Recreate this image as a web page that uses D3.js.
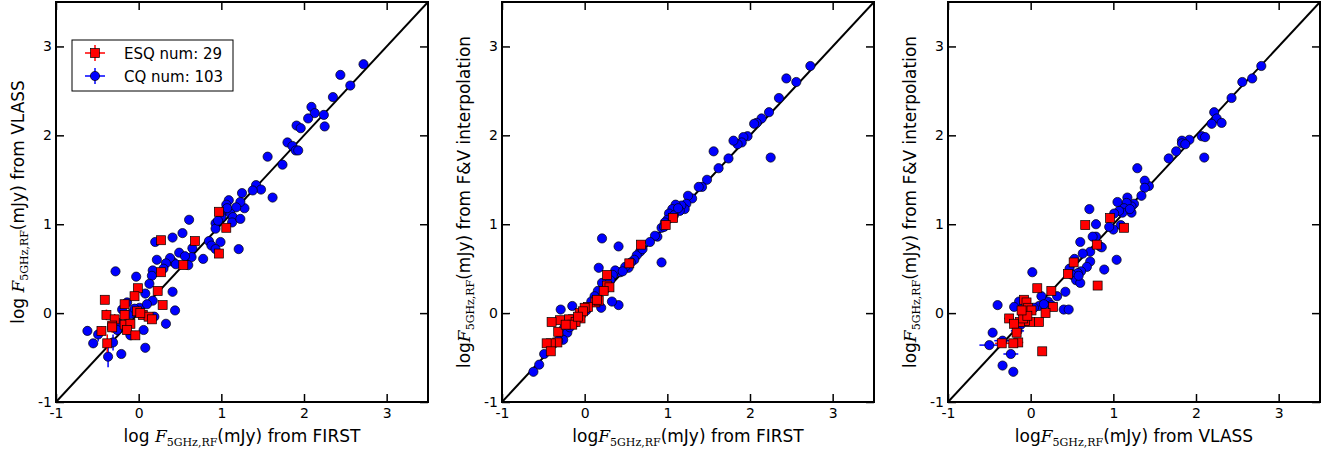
<!DOCTYPE html>
<html>
<head>
<meta charset="utf-8">
<script src="https://cdn.jsdelivr.net/npm/d3@7"></script>
<style>
  body { margin: 0; background: #fff; }
  svg text { font-family: "DejaVu Sans", sans-serif; }
</style>
</head>
<body>
<svg id="chart" width="1336" height="453"></svg>
<script>
// tick values, same on both axes
var tickValues = [-1, 0, 1, 2, 3];
var axisDomain = [-1, 3.5];

var legendLabels = ["ESQ num: 29", "CQ num: 103"];
var xLabels = ["from FIRST", "from FIRST", "from VLASS"];
var yLabels = ["from VLASS", "from F&V interpolation", "from F&V interpolation"];

// points: [x, y, xerr, yerr]
// panel 1: FIRST vs VLASS
var cqFirstVlass = [
  [2.72,2.80,0,0],[2.44,2.68,0,0],[2.56,2.56,0,0],[2.35,2.43,0,0],[2.09,2.32,0,0],[2.13,2.25,0,0],
  [2.05,2.19,0,0],[2.24,2.23,0,0],[2.25,2.10,0,0],[1.91,2.11,0,0],[1.96,2.08,0,0],[1.80,1.92,0,0],
  [1.86,1.88,0,0],[1.90,1.83,0,0],[1.93,1.83,0,0],[1.74,1.67,0,0],[1.56,1.76,0,0],[1.62,1.30,0,0],
  [1.42,1.44,0,0],[1.48,1.39,0,0],[1.38,1.38,0,0],[1.25,1.35,0,0],[1.28,1.18,0,0],[1.23,1.25,0,0],
  [1.18,1.19,0,0],[1.09,1.27,0,0],[1.06,1.22,0,0],[1.04,1.15,0,0],[1.11,1.12,0,0],[1.14,1.08,0,0],
  [1.13,1.02,0,0],[1.23,1.06,0,0],[1.21,0.72,0,0],[0.99,1.12,0,0],[0.93,1.01,0,0],[0.93,0.95,0,0],
  [0.99,0.80,0,0],[0.85,0.81,0,0],[0.88,0.76,0,0],[0.93,0.72,0,0],[0.78,0.61,0,0],[0.65,0.73,0,0],
  [0.64,0.63,0,0],[0.60,0.54,0,0],[0.61,1.05,0,0],[0.53,0.90,0,0],[0.49,0.68,0,0],[0.41,0.85,0,0],
  [0.41,0.58,0,0],[0.38,0.62,0,0],[0.33,0.56,0,0],[0.30,0.50,0,0],[0.20,0.80,0,0],[0.22,0.60,0,0],
  [0.17,0.48,0,0],[0.16,0.42,0,0],[0.13,0.33,0,0],[0.17,0.14,0,0],[0.08,0.22,0,0],[-0.03,0.41,0,0],
  [-0.28,0.47,0,0],[0.01,0.06,0,0],[0.41,0.24,0,0],[0.44,0.03,0,0],[0.33,-0.12,0,0],[0.19,-0.04,0,0.05],
  [0.06,-0.19,0,0.04],[0.08,-0.39,0,0.04],[-0.14,0.12,0,0],[-0.10,-0.01,0,0.05],[-0.20,0.04,0,0.04],
  [-0.10,-0.25,0,0.05],[-0.25,-0.11,0,0.06],[-0.26,-0.19,0,0.06],[-0.31,-0.33,0,0.09],[-0.37,-0.49,0,0.12],
  [-0.21,-0.46,0,0.04],[-0.62,-0.20,0,0.05],[-0.55,-0.34,0,0.05],[-0.49,-0.24,0,0.08],[1.00,1.08,0,0],
  [1.07,1.18,0,0],[0.96,1.04,0,0],[0.45,0.55,0,0],[0.56,0.64,0,0],[-0.05,0.05,0,0.04],[0.10,0.10,0,0]
];
var esqFirstVlass = [
  [0.97,1.14,0,0],[1.06,0.96,0,0],[0.97,0.67,0,0],[0.68,0.81,0,0],[0.54,0.54,0,0],[0.27,0.82,0,0],
  [0.27,0.46,0,0],[0.23,0.25,0,0],[0.29,0.09,0,0],[-0.01,0.28,0,0],[-0.05,0.19,0,0],[-0.41,0.15,0,0],
  [-0.17,0.10,0,0.05],[-0.39,-0.02,0,0.06],[-0.29,-0.07,0,0.06],[-0.17,-0.02,0,0.05],[-0.02,0.02,0,0.04],
  [0.05,-0.02,0,0.04],[0.12,-0.04,0,0.04],[0.16,-0.07,0,0.04],[-0.32,-0.14,0,0.07],[-0.17,-0.13,0,0.06],
  [-0.10,-0.12,0,0.05],[-0.14,-0.19,0,0.05],[-0.04,-0.25,0,0.05],[-0.45,-0.20,0,0.05],[-0.38,-0.34,0,0.10],
  [-0.32,-0.16,0,0.06],[0.02,0.00,0,0.04]
];

// panel 2: FIRST vs F&V interpolation
var cqFirstFv = [
  [2.73,2.78,0,0],[2.44,2.64,0,0],[2.56,2.60,0,0],[2.35,2.42,0,0],[2.23,2.26,0,0],[2.14,2.19,0,0],
  [2.08,2.14,0,0],[2.05,2.13,0,0],[2.25,1.75,0,0],[1.97,1.99,0,0],[1.92,1.98,0,0],[1.90,1.92,0,0],
  [1.85,1.90,0,0],[1.80,1.94,0,0],[1.74,1.74,0,0],[1.62,1.63,0,0],[1.56,1.82,0,0],[1.48,1.50,0,0],
  [1.42,1.42,0,0],[1.38,1.42,0,0],[1.30,1.29,0,0],[1.25,1.32,0,0],[1.23,1.23,0,0],[1.21,1.17,0,0],
  [1.17,1.21,0,0],[1.15,1.15,0,0],[1.10,1.22,0,0],[1.06,1.17,0,0],[1.02,1.12,0,0],[1.00,1.05,0,0],
  [0.97,1.02,0,0],[0.93,0.96,0,0],[0.93,0.57,0,0],[0.88,0.86,0,0],[0.85,0.87,0,0],[0.79,0.80,0,0],
  [0.67,0.69,0,0],[0.63,0.65,0,0],[0.60,0.60,0,0],[0.53,0.51,0,0],[0.49,0.52,0,0],[0.41,0.75,0,0],
  [0.41,0.09,0,0],[0.33,0.13,0,0],[0.21,0.84,0,0],[0.17,0.51,0,0],[0.21,0.34,0,0],[0.20,0.06,0,0],
  [0.43,0.46,0,0],[0.37,0.48,0,0],[0.34,0.43,0,0],[0.31,0.37,0,0],[0.16,0.25,0,0],[0.12,0.19,0,0],
  [0.08,0.13,0,0],[-0.15,0.08,0,0],[-0.29,0.04,0,0],[-0.25,-0.17,0,0.03],[-0.21,-0.22,0,0.03],
  [-0.26,-0.30,0,0.03],[-0.37,-0.34,0,0.03],[-0.49,-0.46,0,0.03],[-0.55,-0.58,0,0.03],[-0.62,-0.66,0,0.03],
  [-0.12,-0.11,0,0.03],[-0.04,-0.02,0,0],[1.08,1.10,0,0],[1.13,1.18,0,0],[0.96,0.97,0,0],[0.70,0.72,0,0],
  [0.56,0.57,0,0],[0.46,0.47,0,0],[0.26,0.28,0,0],[0.02,0.03,0,0],[-0.18,-0.16,0,0.03],[-0.32,-0.31,0,0.03]
];
var esqFirstFv = [
  [1.07,1.07,0,0],[0.98,0.99,0,0],[0.68,0.77,0,0],[0.54,0.56,0,0],[0.27,0.43,0,0],[0.27,0.31,0,0],
  [0.30,0.29,0,0],[0.23,0.25,0,0],[0.13,0.12,0,0],[0.17,0.14,0,0],[0.04,0.07,0,0],[0.00,0.06,0,0],
  [-0.06,0.00,0,0],[-0.05,-0.06,0,0],[-0.14,-0.07,0,0.03],[-0.19,-0.07,0,0.03],[-0.11,-0.10,0,0.03],
  [-0.15,-0.13,0,0.03],[-0.30,-0.08,0,0.04],[-0.40,-0.10,0,0.04],[-0.32,-0.21,0,0.04],[-0.33,-0.33,0,0.03],
  [-0.41,-0.34,0,0.03],[-0.46,-0.34,0,0.03],[-0.41,-0.43,0,0.03],[-0.23,-0.13,0,0.03],[-0.02,0.02,0,0],
  [0.15,0.15,0,0],[-0.08,-0.04,0,0]
];

// panel 3: VLASS vs F&V interpolation
var cqVlassFv = [
  [2.79,2.78,0,0],[2.68,2.64,0,0],[2.56,2.60,0,0],[2.43,2.42,0,0],[2.22,2.26,0,0],[2.25,2.19,0,0],
  [2.19,2.13,0,0],[2.31,2.14,0,0],[2.07,1.99,0,0],[2.11,1.98,0,0],[2.10,1.75,0,0],[1.92,1.95,0,0],
  [1.83,1.94,0,0],[1.83,1.91,0,0],[1.87,1.90,0,0],[1.76,1.82,0,0],[1.67,1.74,0,0],[1.43,1.43,0,0],
  [1.38,1.49,0,0],[1.38,1.41,0,0],[1.34,1.32,0,0],[1.29,1.63,0,0],[1.25,1.23,0,0],[1.22,1.20,0,0],
  [1.22,1.13,0,0],[1.17,1.30,0,0],[1.16,1.24,0,0],[1.13,1.18,0,0],[1.11,1.13,0,0],[1.07,1.15,0,0],
  [1.05,1.25,0,0],[1.01,1.12,0,0],[1.09,0.99,0,0],[1.00,0.94,0,0],[0.95,0.97,0,0],[1.04,0.60,0,0],
  [0.71,1.17,0,0],[0.79,1.00,0,0],[0.79,0.86,0,0],[0.75,0.86,0,0],[0.84,0.75,0,0],[0.72,0.69,0,0],
  [0.72,0.58,0,0],[0.68,0.52,0,0],[0.89,0.49,0,0],[0.60,0.80,0,0],[0.63,0.67,0,0],[0.53,0.61,0,0],
  [0.47,0.50,0,0],[0.61,0.47,0,0],[0.57,0.45,0,0],[0.50,0.43,0,0],[0.55,0.37,0,0],[0.60,0.34,0,0],
  [0.02,0.46,0,0],[0.42,0.24,0,0],[0.32,0.19,0,0],[0.21,0.13,0,0],[0.25,0.09,0,0],[0.13,0.19,0,0],
  [0.10,0.08,0,0],[0.40,0.04,0,0],[0.46,0.04,0,0],[0.04,0.06,0,0],[-0.14,0.13,0.04,0],[-0.20,0.07,0.04,0],
  [-0.40,0.09,0.04,0],[-0.46,-0.22,0.05,0],[-0.50,-0.36,0.12,0],[-0.34,-0.31,0.10,0.03],
  [-0.24,-0.46,0.09,0],[-0.34,-0.59,0.03,0.04],[-0.21,-0.66,0.03,0.03],[-0.16,-0.20,0.08,0.03],
  [-0.12,-0.13,0.06,0],[-0.06,-0.07,0.05,0],[1.20,1.17,0,0],[0.58,0.42,0,0],[0.86,0.74,0,0],
  [0.16,0.10,0,0],[-0.02,0.03,0.04,0],[-0.10,0.00,0.05,0]
];
var esqVlassFv = [
  [0.96,1.07,0,0],[1.13,0.96,0,0],[0.66,0.99,0,0],[0.80,0.77,0,0],[0.81,0.31,0,0],[0.52,0.57,0,0],
  [0.45,0.44,0,0],[0.08,0.28,0,0],[0.25,0.25,0,0],[0.27,0.07,0,0],[0.18,0.00,0,0],[0.10,-0.10,0,0],
  [0.14,-0.43,0.03,0],[-0.08,0.15,0.05,0],[-0.05,0.12,0.05,0],[-0.03,0.06,0.04,0],[0.01,0.03,0.04,0],
  [-0.01,-0.10,0.04,0],[-0.07,-0.09,0.05,0],[-0.13,-0.10,0.05,0],[-0.26,-0.06,0.06,0],[-0.20,-0.12,0.06,0],
  [-0.17,-0.22,0.06,0],[-0.15,-0.33,0.06,0],[-0.21,-0.34,0.07,0],[-0.35,-0.34,0.08,0],[-0.09,-0.06,0.05,0],
  [-0.04,-0.03,0.04,0],[-0.11,0.03,0.05,0]
];

var panels = [
  {cq: cqFirstVlass, esq: esqFirstVlass, xl: xLabels[0], yl: yLabels[0], xlog: "log ", ylog: "log ", legend: true},
  {cq: cqFirstFv, esq: esqFirstFv, xl: xLabels[1], yl: yLabels[1], xlog: "log", ylog: "log", legend: false},
  {cq: cqVlassFv, esq: esqVlassFv, xl: xLabels[2], yl: yLabels[2], xlog: "log", ylog: "log", legend: false}
];

var width = 372, height = 400;
var svg = d3.select("#chart");

var x = d3.scaleLinear().domain(axisDomain).range([0, width]);
var y = d3.scaleLinear().domain(axisDomain).range([height, 0]);

// writes "log F_5GHz,RF(mJy) from ..." into a text element
function fluxLabel(t, logText, tail) {
  t.append("tspan").text(logText);
  t.append("tspan").attr("font-family", "'DejaVu Serif', serif").attr("font-style", "italic").text("F");
  t.append("tspan").attr("font-family", "'DejaVu Serif', serif").attr("font-size", 11)
    .attr("dy", 4).text("5GHz,RF");
  t.append("tspan").attr("dy", -4).text("(mJy) " + tail);
}

function drawPoints(g, data, color, shape) {
  var eb = g.append("g").attr("stroke", color).attr("stroke-width", 1.5);
  data.forEach(function(d) {
    if (d[2] > 0) eb.append("line").attr("x1", x(d[0] - d[2])).attr("x2", x(d[0] + d[2]))
      .attr("y1", y(d[1])).attr("y2", y(d[1]));
    if (d[3] > 0) eb.append("line").attr("x1", x(d[0])).attr("x2", x(d[0]))
      .attr("y1", y(d[1] - d[3])).attr("y2", y(d[1] + d[3]));
  });
  if (shape == "circle") {
    g.selectAll(null).data(data).enter().append("circle")
      .attr("cx", function(d) { return x(d[0]); })
      .attr("cy", function(d) { return y(d[1]); })
      .attr("r", 4.6)
      .attr("fill", color).attr("stroke", "#000").attr("stroke-width", 0.7);
  } else {
    g.selectAll(null).data(data).enter().append("rect")
      .attr("x", function(d) { return x(d[0]) - 4.5; })
      .attr("y", function(d) { return y(d[1]) - 4.5; })
      .attr("width", 9).attr("height", 9)
      .attr("fill", color).attr("stroke", "#000").attr("stroke-width", 0.7);
  }
}

panels.forEach(function(p, i) {
  var g = svg.append("g").attr("transform", "translate(" + (56 + i * 446) + ",2)");

  g.append("defs").append("clipPath").attr("id", "clip" + i)
    .append("rect").attr("width", width).attr("height", height);

  var plot = g.append("g").attr("clip-path", "url(#clip" + i + ")");

  // one-to-one line
  plot.append("line")
    .attr("x1", x(axisDomain[0])).attr("y1", y(axisDomain[0]))
    .attr("x2", x(axisDomain[1])).attr("y2", y(axisDomain[1]))
    .attr("stroke", "#000").attr("stroke-width", 2);

  drawPoints(plot, p.cq, "#0000ff", "circle");
  drawPoints(plot, p.esq, "#ff0000", "square");

  // axes with inward ticks
  var fmt = function(d) { return d; };
  g.append("g").attr("transform", "translate(0," + height + ")")
    .call(d3.axisBottom(x).tickValues(tickValues).tickFormat(fmt).tickSizeInner(-8).tickSizeOuter(0).tickPadding(6));
  g.append("g")
    .call(d3.axisTop(x).tickValues(tickValues).tickFormat("").tickSizeInner(-8).tickSizeOuter(0));
  g.append("g")
    .call(d3.axisLeft(y).tickValues(tickValues).tickFormat(fmt).tickSizeInner(-8).tickSizeOuter(0).tickPadding(4));
  g.append("g").attr("transform", "translate(" + width + ",0)")
    .call(d3.axisRight(y).tickValues(tickValues).tickFormat("").tickSizeInner(-8).tickSizeOuter(0));

  g.selectAll(".domain").remove();
  g.selectAll(".tick line").attr("stroke", "#000").attr("stroke-width", 1.5);
  g.selectAll(".tick text").attr("font-size", 14).attr("fill", "#000")
    .attr("font-family", "'DejaVu Sans', sans-serif");

  // frame
  g.append("rect").attr("width", width).attr("height", height)
    .attr("fill", "none").attr("stroke", "#000").attr("stroke-width", 2);

  // axis labels
  var xt = g.append("text").attr("x", width / 2).attr("y", 440)
    .attr("text-anchor", "middle").attr("font-size", 17).attr("fill", "#000");
  fluxLabel(xt, p.xlog, p.xl);

  var yt = g.append("text")
    .attr("transform", "translate(-32," + (height / 2) + ") rotate(-90)")
    .attr("text-anchor", "middle").attr("font-size", 17).attr("fill", "#000");
  fluxLabel(yt, p.ylog, p.yl);

  if (p.legend) {
    var lg = g.append("g").attr("transform", "translate(16,38)");
    lg.append("rect").attr("width", 161).attr("height", 51)
      .attr("fill", "#fff").attr("stroke", "#000").attr("stroke-width", 1);
    var colors = ["#ff0000", "#0000ff"];
    legendLabels.forEach(function(lab, k) {
      var cy = 13 + k * 23, cx = 23;
      lg.append("line").attr("x1", cx - 10).attr("x2", cx + 10).attr("y1", cy).attr("y2", cy)
        .attr("stroke", colors[k]).attr("stroke-width", 1.5);
      lg.append("line").attr("x1", cx).attr("x2", cx).attr("y1", cy - 8).attr("y2", cy + 8)
        .attr("stroke", colors[k]).attr("stroke-width", 1.5);
      if (k == 0) {
        lg.append("rect").attr("x", cx - 4.5).attr("y", cy - 4.5).attr("width", 9).attr("height", 9)
          .attr("fill", colors[k]).attr("stroke", "#000").attr("stroke-width", 0.7);
      } else {
        lg.append("circle").attr("cx", cx).attr("cy", cy).attr("r", 4.6)
          .attr("fill", colors[k]).attr("stroke", "#000").attr("stroke-width", 0.7);
      }
      lg.append("text").attr("x", 52).attr("y", cy + 5.5).attr("font-size", 15).attr("fill", "#000").text(lab);
    });
  }
});
</script>
</body>
</html>
